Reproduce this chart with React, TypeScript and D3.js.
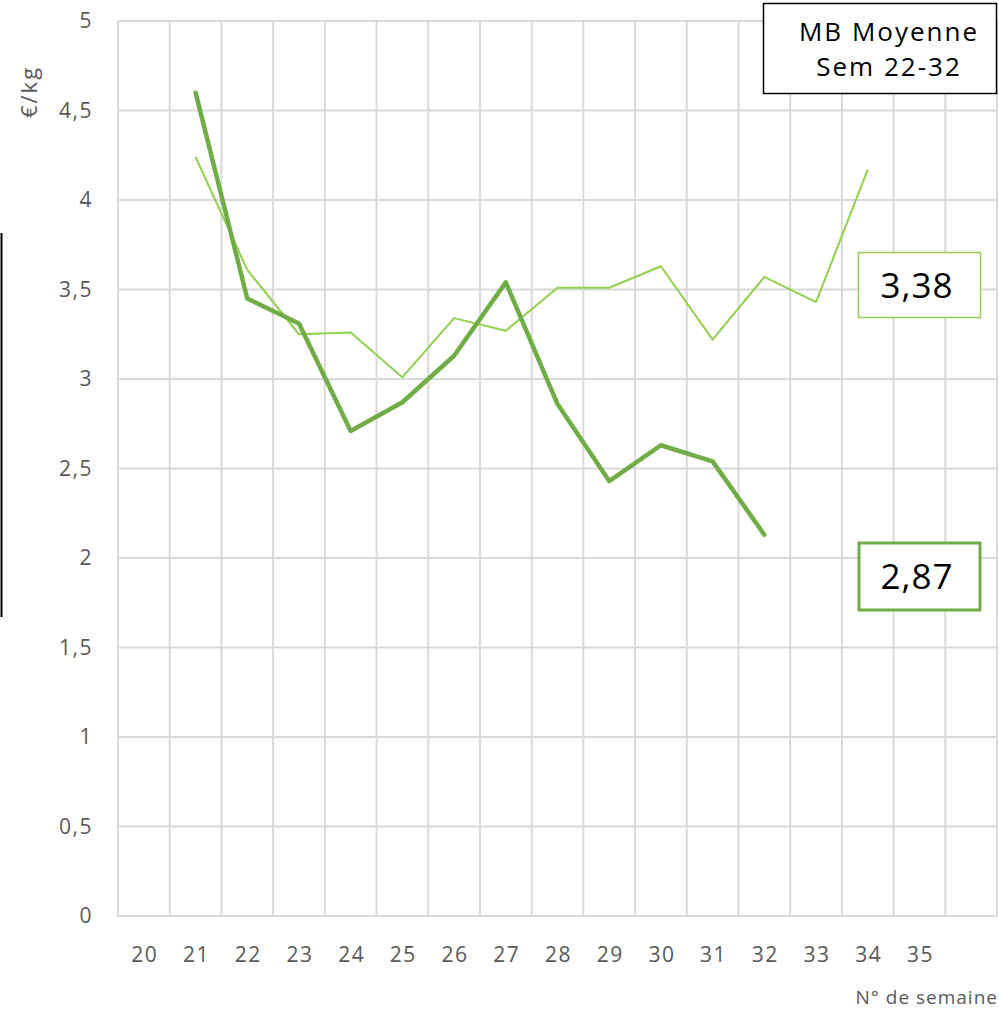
import React from "react";
import * as d3 from "d3";

const weeks = [20, 21, 22, 23, 24, 25, 26, 27, 28, 29, 30, 31, 32, 33, 34, 35, 36];
const weekLabels = ["20", "21", "22", "23", "24", "25", "26", "27", "28", "29", "30", "31", "32", "33", "34", "35", ""];
const yTicks = [0, 0.5, 1, 1.5, 2, 2.5, 3, 3.5, 4, 4.5, 5];

const lightWeeks = [21, 22, 23, 24, 25, 26, 27, 28, 29, 30, 31, 32, 33, 34];
const lightValues = [4.24, 3.61, 3.25, 3.26, 3.01, 3.34, 3.27, 3.51, 3.51, 3.63, 3.22, 3.57, 3.43, 4.17];

const darkWeeks = [21, 22, 23, 24, 25, 26, 27, 28, 29, 30, 31, 32];
const darkValues = [4.6, 3.45, 3.31, 2.71, 2.87, 3.13, 3.54, 2.86, 2.43, 2.63, 2.54, 2.13];

const FONT = "'Open Sans', 'Noto Sans', sans-serif";

export default function App() {
  const left = 118, right = 997, top = 21, bottom = 916;
  const x = d3.scaleBand<number>().domain(weeks).range([left, right]).padding(0);
  const y = d3.scaleLinear().domain([0, 5]).range([bottom, top]);
  const cx = (w: number) => (x(w) as number) + x.bandwidth() / 2;

  const line = d3.line<[number, number]>().x(d => cx(d[0])).y(d => y(d[1]));
  const lightPts = lightWeeks.map((w, i) => [w, lightValues[i]] as [number, number]);
  const darkPts = darkWeeks.map((w, i) => [w, darkValues[i]] as [number, number]);

  const vLines = weeks.map(w => x(w) as number).concat([right]);

  return (
    <svg width={999} height={1017} style={{ position: "absolute", left: 0, top: 0, background: "#fff" }} fontFamily={FONT}>
      <rect width={999} height={1017} fill="#fff" />
      {yTicks.map(t => (
        <line key={"h" + t} x1={left} x2={right} y1={y(t)} y2={y(t)} stroke="#D9D9D9" strokeWidth={2} />
      ))}
      {vLines.map((vx, i) => (
        <line key={"v" + i} x1={vx} x2={vx} y1={top} y2={bottom} stroke="#D9D9D9" strokeWidth={2} />
      ))}
      {yTicks.map(t => (
        <text key={"yt" + t} x={93} y={y(t)} dy="0.35em" textAnchor="end" fontSize={21} letterSpacing={1.5} fill="#595959">
          {String(t).replace(".", ",")}
        </text>
      ))}
      {weeks.map((w, i) => (
        <text key={"xt" + w} x={cx(w) + 1} y={955} dy="0.35em" textAnchor="middle" fontSize={21} letterSpacing={1.5} fill="#595959">
          {weekLabels[i]}
        </text>
      ))}
      <text transform="translate(37,92) rotate(-90)" textAnchor="middle" fontSize={22} letterSpacing={2} fill="#595959">€/kg</text>
      <text x={998} y={1004} textAnchor="end" fontSize={19} letterSpacing={1} fill="#595959">N° de semaine</text>

      <path d={line(lightPts) || ""} fill="none" stroke="#92D050" strokeWidth={2} strokeLinejoin="round" />
      <path d={line(darkPts) || ""} fill="none" stroke="#70AD47" strokeWidth={4.5} strokeLinejoin="round" strokeLinecap="round" />

      <line x1={1.5} x2={1.5} y1={233} y2={617} stroke="#000" strokeWidth={2} />

      <rect x={763.5} y={3.5} width={233} height={90} fill="#fff" stroke="#000" strokeWidth={1.5} />
      <text x={889} y={41} textAnchor="middle" fontSize={26} letterSpacing={2} fill="#000">MB Moyenne</text>
      <text x={889} y={76} textAnchor="middle" fontSize={26} letterSpacing={2} fill="#000">Sem 22-32</text>

      <rect x={858.5} y={252.5} width={122} height={65} fill="#fff" stroke="#92D050" strokeWidth={1.5} />
      <text x={917} y={298} textAnchor="middle" fontSize={35} letterSpacing={1} fill="#000">3,38</text>

      <rect x={859} y={543} width={121} height={67} fill="#fff" stroke="#70AD47" strokeWidth={3} />
      <text x={917} y={589} textAnchor="middle" fontSize={35} letterSpacing={1} fill="#000">2,87</text>
    </svg>
  );
}
